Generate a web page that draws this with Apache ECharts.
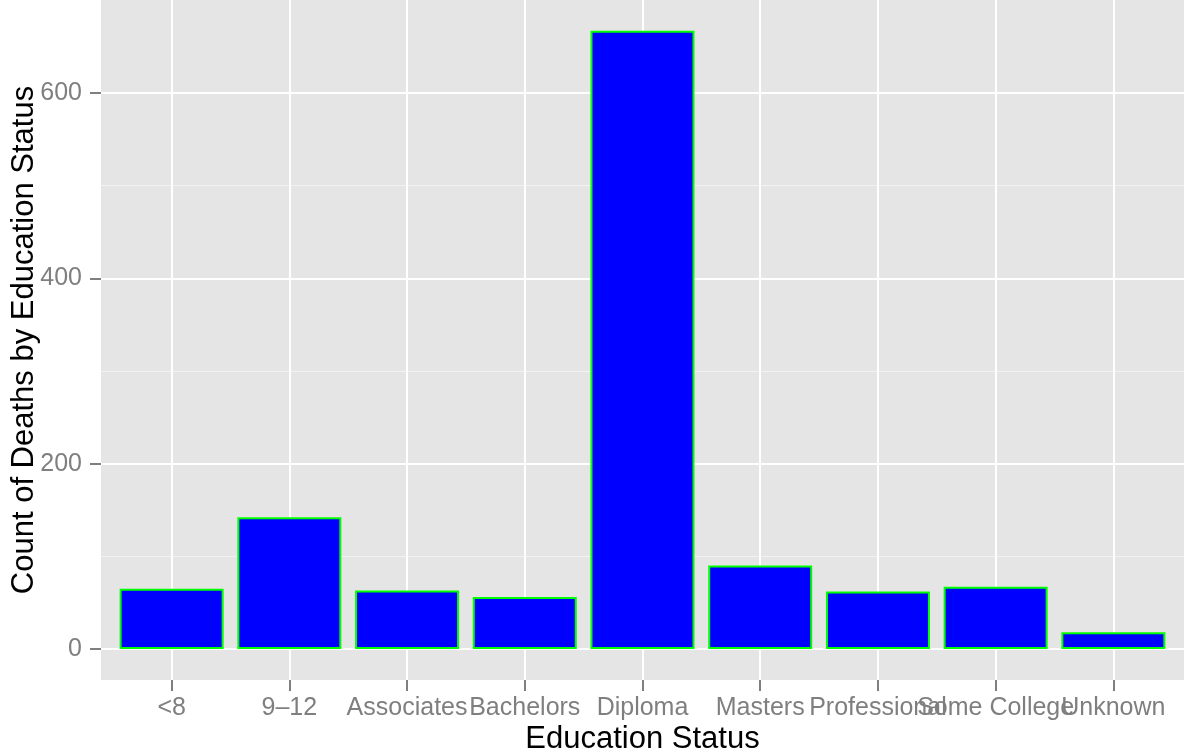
<!DOCTYPE html>
<html>
<head>
<meta charset="utf-8">
<script src="https://cdn.jsdelivr.net/npm/echarts@6/dist/echarts.min.js"></script>
<style>
html,body{margin:0;padding:0;background:#fff;}
#chart{width:1184px;height:754px;}
</style>
</head>
<body>
<div id="chart"></div>
<script>
const categories = ['<8', '9\u201312', 'Associates', 'Bachelors', 'Diploma', 'Masters', 'Professional', 'Some College', 'Unknown'];
const counts = [65, 142, 63, 56, 667, 90, 62, 67, 18];
const yMajorTicks = [0, 200, 400, 600];
const yMinorTicks = [100, 300, 500];
const xGridPositions = categories.map((c, i) => i + 1);

const FONT = '"Liberation Sans", Arial, sans-serif';
const chart = echarts.init(document.getElementById('chart'), null, {renderer: 'canvas'});

// Panel: x from 101 to 1184; discrete scale expanded by 0.6 units each side (0.4..9.6)
const panelLeft = 101, panelRight = 0, panelBottom = 74;
const unitPx = (1184 - panelLeft - panelRight) / 9.2;
const bandPad = 0.1 * unitPx;

chart.setOption({
  animation: false,
  backgroundColor: '#ffffff',
  grid: [{
    left: panelLeft, right: panelRight, top: 0, bottom: panelBottom,
    show: true, backgroundColor: '#E5E5E5', borderWidth: 0,
    containLabel: false, outerBoundsMode: 'none'
  }, {
    left: panelLeft + bandPad, right: panelRight + bandPad, top: 0, bottom: panelBottom,
    show: false, containLabel: false, outerBoundsMode: 'none'
  }],
  xAxis: [{
    type: 'value',
    gridIndex: 0,
    min: 0.4, max: 9.6,
    name: 'Education Status',
    nameLocation: 'middle',
    nameGap: 44,
    nameTextStyle: {color: '#000', fontSize: 31, fontFamily: FONT},
    axisLine: {show: false, onZero: false},
    axisTick: {show: false, customValues: xGridPositions},
    axisLabel: {show: false, customValues: xGridPositions},
    splitLine: {show: true, lineStyle: {color: '#FFFFFF', width: 2}}
  }, {
    type: 'category',
    gridIndex: 1,
    data: categories,
    boundaryGap: true,
    axisLine: {show: false, onZero: false},
    axisTick: {show: true, alignWithLabel: true, interval: 0, length: 11, lineStyle: {color: '#7F7F7F', width: 2}},
    axisLabel: {interval: 0, color: '#7F7F7F', fontSize: 25, fontFamily: FONT, margin: 16, hideOverlap: false},
    splitLine: {show: false}
  }],
  yAxis: [{
    type: 'value',
    gridIndex: 0,
    min: -33.5, max: 700.3,
    name: 'Count of Deaths by Education Status',
    nameLocation: 'middle',
    nameGap: 61,
    nameMoveOverlap: false,
    nameTextStyle: {color: '#000', fontSize: 31, fontFamily: FONT},
    axisLine: {show: false, onZero: false},
    axisTick: {show: true, customValues: yMajorTicks, length: 11, lineStyle: {color: '#7F7F7F', width: 2}},
    axisLabel: {customValues: yMajorTicks, color: '#7F7F7F', fontSize: 25, fontFamily: FONT, margin: 19,
      showMinLabel: true, showMaxLabel: true},
    splitLine: {show: true, lineStyle: {color: '#FFFFFF', width: 2}}
  }, {
    type: 'value',
    gridIndex: 0,
    position: 'left',
    min: -33.5, max: 700.3,
    axisLine: {show: false, onZero: false},
    axisTick: {show: false, customValues: yMinorTicks},
    axisLabel: {show: false, customValues: yMinorTicks},
    splitLine: {show: true, lineStyle: {color: '#F2F2F2', width: 1}}
  }, {
    type: 'value',
    gridIndex: 1,
    min: -33.5, max: 700.3,
    show: false,
    axisLine: {show: false, onZero: false},
    splitLine: {show: false}
  }],
  series: [{
    type: 'bar',
    xAxisIndex: 1,
    yAxisIndex: 2,
    data: counts,
    barWidth: 104,
    itemStyle: {color: '#0000FF', borderColor: '#00FF00', borderWidth: 2}
  }]
});
</script>
</body>
</html>
